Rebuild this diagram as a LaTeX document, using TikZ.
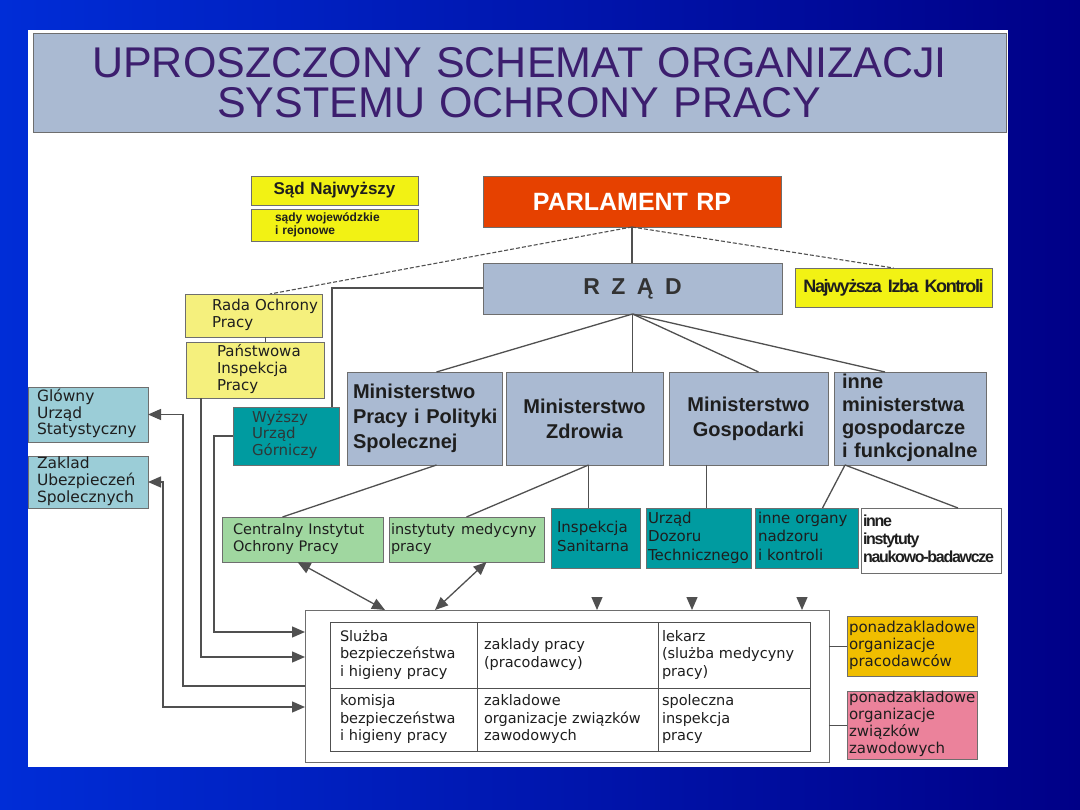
\documentclass[tikz,border=0pt]{standalone}
\usepackage{fontspec}
\setmainfont{Liberation Sans}
\newfontfamily\dvs{DejaVu Sans}
\newfontfamily\lscond{Liberation Sans}[LetterSpace=-8]
\usetikzlibrary{arrows.meta,calc}
\definecolor{bgA}{RGB}{0,45,215}
\definecolor{bgB}{RGB}{0,0,135}
\definecolor{slate}{RGB}{170,186,210}
\definecolor{titlec}{RGB}{60,30,110}
\definecolor{yel}{RGB}{242,242,20}
\definecolor{paley}{RGB}{245,240,125}
\definecolor{tealbox}{RGB}{0,155,160}
\definecolor{lgreen}{RGB}{160,215,160}
\definecolor{lcyan}{RGB}{155,205,215}
\definecolor{parlc}{RGB}{230,65,0}
\definecolor{orng}{RGB}{240,190,0}
\definecolor{pnk}{RGB}{235,130,155}
\definecolor{bord}{RGB}{110,110,110}
\definecolor{linec}{RGB}{80,80,80}
\definecolor{txt}{RGB}{30,30,30}
\newcommand\fs[2]{\fontsize{#1}{#2}\selectfont}
\newcommand\bxl[8]{%
 \pgfmathsetmacro\bxW{#4-#2}\pgfmathsetmacro\bxH{#5-#3}\pgfmathsetmacro\bxT{#4-#2-4}%
 \node[box,#7,minimum width=\bxW pt,minimum height=\bxH pt,text width=\bxT pt,inner xsep=2pt,align=left] (#1) at ({(#2+#4)/2},{(#3+#5)/2}) {\hspace*{#6pt}\begin{tabular}{@{}l@{}}#8\end{tabular}};}
\newcommand\bxc[7]{%
 \pgfmathsetmacro\bxW{#4-#2}\pgfmathsetmacro\bxH{#5-#3}\pgfmathsetmacro\bxT{#4-#2-4}%
 \node[box,#6,minimum width=\bxW pt,minimum height=\bxH pt,text width=\bxT pt,inner xsep=2pt,align=center] (#1) at ({(#2+#4)/2},{(#3+#5)/2}) {#7};}
\begin{document}
\begin{tikzpicture}[x=1pt,y=-1pt,
  box/.style={draw=bord,line width=0.8pt,inner ysep=0pt,outer sep=0pt,text=txt},
  conn/.style={draw=linec,line width=1.3pt},
  dsh/.style={draw=linec,line width=1.1pt,dash pattern=on 4pt off 2pt},
  arr/.style={-{Triangle[length=13pt,width=11pt]}},
  rarr/.style={{Triangle[length=13pt,width=11pt]}-},
  barr/.style={{Triangle[length=13pt,width=11pt]}-{Triangle[length=13pt,width=11pt]}},
  small/.style={font=\dvs\fs{15}{17}},
  cell/.style={draw=linec,line width=0.9pt,fill=white,font=\dvs\fs{14.5}{17.5}}]
% background
\shade[left color=bgA, right color=bgB] (0,0) rectangle (1080,810);
\fill[white] (28,30) rectangle (1008,767);
% title
\bxc{title}{33}{33}{1006}{132}{fill=slate,text=titlec,font=\fs{43}{40}}{UPROSZCZONY SCHEMAT ORGANIZACJI\\SYSTEMU OCHRONY PRACY}
% top
\bxc{sad}{251}{176}{418}{205}{fill=yel,font=\fs{17}{18}\bfseries}{Sąd Najwyższy}
\bxl{sady}{251}{209}{418}{241}{22}{fill=yel,font=\fs{12}{13}\bfseries}{sądy wojewódzkie\\i rejonowe}
\bxc{parl}{483}{176}{781}{227}{fill=parlc,text=white,font=\fs{25}{26}\bfseries}{PARLAMENT RP}
\bxc{rzad}{483}{263}{782}{314}{fill=slate,text={rgb,255:red,50;green,50;blue,50},font=\fs{23}{24}\bfseries}{R\, Z\, Ą\, D}
\bxc{nik}{795}{268}{992}{307}{fill=yel,font=\lscond\fs{18}{19}\bfseries}{Najwyższa Izba Kontroli}
% left column
\bxl{rada}{185}{294}{322}{337}{25}{fill=paley,small}{Rada Ochrony\\Pracy}
\bxl{pip}{186}{342}{324}{398}{29}{fill=paley,small}{Państwowa\\Inspekcja\\Pracy}
\bxl{wug}{233}{407}{339}{465}{17}{fill=tealbox,text={rgb,255:red,45;green,55;blue,55},font=\dvs\fs{15}{16}}{Wyższy\\Urząd\\Górniczy}
\bxl{gus}{28}{387}{148}{442}{7}{fill=lcyan,font=\dvs\fs{15.5}{16}}{Glówny\\Urząd\\Statystyczny}
\bxl{zus}{28}{456}{148}{508}{7}{fill=lcyan,font=\dvs\fs{15.5}{16}}{Zaklad\\Ubezpieczeń\\Spolecznych}
% ministries
\bxl{mp}{347}{372}{502}{465}{4}{fill=slate,font=\fs{20}{25}\bfseries}{Ministerstwo\\Pracy i Polityki\\Spolecznej}
\bxc{zd}{506}{372}{663}{465}{fill=slate,font=\fs{20}{25}\bfseries}{Ministerstwo\\Zdrowia}
\bxc{go}{669}{372}{828}{465}{fill=slate,font=\fs{20}{25}\bfseries}{Ministerstwo\\Gospodarki}
\bxl{inne}{834}{372}{986}{465}{6}{fill=slate,font=\fs{20}{23}\bfseries}{inne\\ministerstwa\\gospodarcze\\i funkcjonalne}
% lower row
\bxl{ciop}{222}{517}{383}{562}{9}{fill=lgreen,font=\dvs\fs{14.5}{17}}{Centralny Instytut\\Ochrony Pracy}
\bxl{imp}{389}{517}{544}{562}{0}{fill=lgreen,font=\dvs\fs{14.5}{17}}{instytuty\hspace{6pt}medycyny\\pracy}
\bxl{insan}{551}{508}{640}{568}{4}{fill=tealbox,font=\dvs\fs{15}{19}}{Inspekcja\\Sanitarna}
\bxl{udt}{646}{508}{751}{568}{0}{fill=tealbox,font=\dvs\fs{15}{18.5}}{Urząd\\Dozoru\\Technicznego}
\bxl{ino}{755}{508}{858}{568}{1}{fill=tealbox,font=\dvs\fs{15}{18.5}}{inne organy\\nadzoru\\i kontroli}
\bxl{nib}{861}{508}{1001}{573}{0}{fill=white,font=\lscond\fs{16}{18}\bfseries}{inne\\instytuty\\naukowo-badawcze}
% table
\bxc{tab}{305}{610}{829}{762}{fill=white}{}
\bxl{c11}{330}{622}{477}{688}{8}{cell}{Slużba\\bezpieczeństwa\\i higieny pracy}
\bxl{c12}{477}{622}{658}{688}{5}{cell}{zaklady pracy\\(pracodawcy)}
\bxl{c13}{658}{622}{810}{688}{2}{cell}{lekarz\\(slużba medycyny\\pracy)}
\bxl{c21}{330}{688}{477}{751}{8}{cell}{komisja\\bezpieczeństwa\\i higieny pracy}
\bxl{c22}{477}{688}{658}{751}{5}{cell}{zakladowe\\organizacje związków\\zawodowych}
\bxl{c23}{658}{688}{810}{751}{2}{cell}{spoleczna\\inspekcja\\pracy}
% right boxes
\bxl{pzp}{847}{616}{977}{676}{0}{fill=orng,font=\dvs\fs{15}{17}}{ponadzakladowe\\organizacje\\pracodawców}
\bxl{pzz}{847}{691}{977}{759}{0}{fill=pnk,font=\dvs\fs{15}{17}}{ponadzakladowe\\organizacje\\związków\\zawodowych}
% connectors: parliament
\draw[conn] (parl.south) -- (parl.south |- rzad.north);
\draw[dsh] (parl.south) -- ($(rada.north west)!0.62!(rada.north east)$);
\draw[dsh] (parl.south) -- (nik.north);
% rzad -> WUG
\draw[conn,line width=2pt] (rzad.west) -| ($(wug.north east)+(-7,0)$);
% rzad -> ministries
\coordinate (rz) at (rzad.south);
\draw[conn] (rz) -- ($(mp.north)+(12,0)$);
\draw[conn] (rz) -- (rz |- zd.north);
\draw[conn] (rz) -- ($(go.north)+(10,0)$);
\draw[conn] (rz) -- ($(inne.north)+(-25,0)$);
% ministries -> lower row
\draw[conn] ($(mp.south)+(12,0)$) -- ($(ciop.north)+(-20,0)$);
\coordinate (zb) at ($(zd.south)+(4,0)$);
\draw[conn] (zb) -- (imp.north);
\draw[conn] (zb) -- (zb |- insan.north);
\coordinate (ut) at ($(udt.north)+(8,0)$);
\draw[conn] (ut |- go.south) -- (ut);
\coordinate (ib) at ($(inne.south)+(-65,0)$);
\draw[conn] (ib) -- ($(ino.north)+(16,0)$);
\draw[conn] (ib) -- ($(nib.north)+(27,0)$);
% rada - pip
\coordinate (rp) at ($(rada.south)+(12,0)$);
\draw[conn,line width=1pt] (rp) -- (rp |- pip.north);
% left arrows
\draw[conn,rarr] (gus.east) -- ++(35,0) |- (tab.west);
\draw[conn,barr] (zus.east) -- ++(15,0) |- ($(tab.west)+(0,21)$);
\draw[conn,arr] ($(pip.south west)+(15,0)$) |- ($(tab.west)+(0,-29)$);
\draw[conn,arr] (wug.west) -- ++(-19,0) |- ($(tab.west)+(0,-54)$);
% institutes <-> table
\draw[conn,barr] ($(ciop.south)+(-5,0)$) -- ($(tab.north west)+(80,0)$);
\draw[conn,barr] ($(imp.south)+(20,0)$) -- ($(tab.north west)+(130,0)$);
% down arrowheads
\coordinate (d1) at (597,598);
\coordinate (d2) at (692,598);
\coordinate (d3) at (802,598);
\draw[conn,arr] (d1) -- (d1 |- tab.north);
\draw[conn,arr] (d2) -- (d2 |- tab.north);
\draw[conn,arr] (d3) -- (d3 |- tab.north);
% right connectors
\draw[conn,line width=1pt] (pzp.west) -- (pzp.west -| tab.east);
\draw[conn,line width=1pt] (pzz.west) -- (pzz.west -| tab.east);
\end{tikzpicture}
\end{document}
